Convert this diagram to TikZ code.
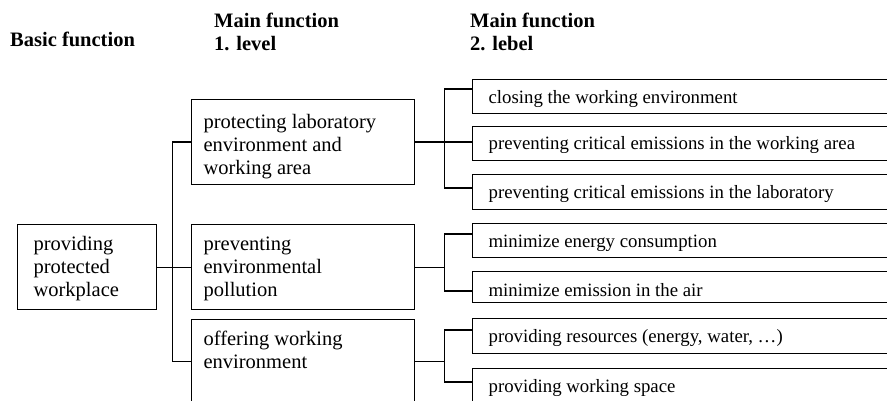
\documentclass[tikz,border=0pt]{standalone}
\usepackage{fontspec}
\setmainfont{Liberation Serif}
\usetikzlibrary{calc}
\newcommand{\btxt}[5]{\vbox to #2{\hsize=#1\relax\parindent=0pt\leftskip=#3\relax\rightskip=0pt plus 1fil\relax\noindent\rule{0pt}{#4}#5\par\vfil}}
\tikzset{
  box/.style={draw=black, line width=1.2pt, inner sep=0pt, anchor=north west},
  midfont/.style={font=\fontsize{20.5}{23}\selectfont},
  smallfont/.style={font=\fontsize{18.8}{22}\selectfont},
  headfont/.style={font=\fontsize{20.5}{23}\selectfont\bfseries, inner sep=0pt, anchor=north west},
  link/.style={draw=black, line width=1.2pt}
}
\begin{document}
\begin{tikzpicture}[x=1pt,y=-1pt]
\useasboundingbox (0,0) rectangle (887,401);
\clip (0,0) rectangle (887,401);
% headers
\node[headfont] (h0) at (10,0) {\btxt{200pt}{60pt}{0pt}{46pt}{Basic function}};
\node[headfont] (h1) at (214,0) {\btxt{200pt}{60pt}{0pt}{27pt}{Main function\newline 1. level}};
\node[headfont] (h2) at (470,0) {\btxt{200pt}{60pt}{0pt}{27pt}{Main function\newline 2. lebel}};
% basic function
\node[box,midfont] (L) at (17,224) {\btxt{139pt}{85pt}{16pt}{26pt}{providing\newline protected\newline workplace}};
% level 1
\node[box,midfont] (A) at (191,99) {\btxt{223pt}{85pt}{12pt}{29pt}{protecting laboratory\newline environment and\newline working area}};
\node[box,midfont] (B) at (191,224) {\btxt{223pt}{85pt}{12pt}{26pt}{preventing\newline environmental\newline pollution}};
\node[box,midfont] (C) at (191,319) {\btxt{223pt}{84pt}{12pt}{26pt}{offering working\newline environment}};
% level 2
\node[box,smallfont] (s1) at (472,79) {\btxt{440pt}{34pt}{16pt}{24pt}{closing the working environment}};
\node[box,smallfont] (s2) at (472,126) {\btxt{440pt}{34pt}{16pt}{23pt}{preventing critical emissions in the working area}};
\node[box,smallfont] (s3) at (472,174) {\btxt{440pt}{35pt}{16pt}{24pt}{preventing critical emissions in the laboratory}};
\node[box,smallfont] (s4) at (472,223) {\btxt{440pt}{34pt}{16pt}{24pt}{minimize energy consumption}};
\node[box,smallfont] (s5) at (472,271) {\btxt{440pt}{31pt}{16pt}{25pt}{minimize emission in the air}};
\node[box,smallfont] (s6) at (472,318) {\btxt{440pt}{35pt}{16pt}{24pt}{providing resources (energy, water, \dots)}};
\node[box,smallfont] (s7) at (472,368) {\btxt{440pt}{40pt}{16pt}{24pt}{providing working space}};
% connectors: basic -> level 1
\draw[link] (L.east) -- ++(15,0) coordinate (jL) -- (B.west);
\draw[link] (A.west) -| (jL) |- (C.west);
% level 1 -> level 2
\draw[link] (A.east) -- ++(29,0) coordinate (jA) -- (jA -| s2.west);
\draw[link] ($(s1.north west)+(0,10)$) -| (jA) |- ($(s3.north west)+(0,14)$);
\draw[link] (B.east) -- ++(29,0) coordinate (jB);
\draw[link] ($(s4.north west)+(0,11)$) -| (jB) |- ($(s5.north west)+(0,20)$);
\draw[link] (C.east) -- ++(29,0) coordinate (jC);
\draw[link] ($(s6.north west)+(0,12)$) -| (jC) |- ($(s7.north west)+(0,14)$);
\end{tikzpicture}
\end{document}
